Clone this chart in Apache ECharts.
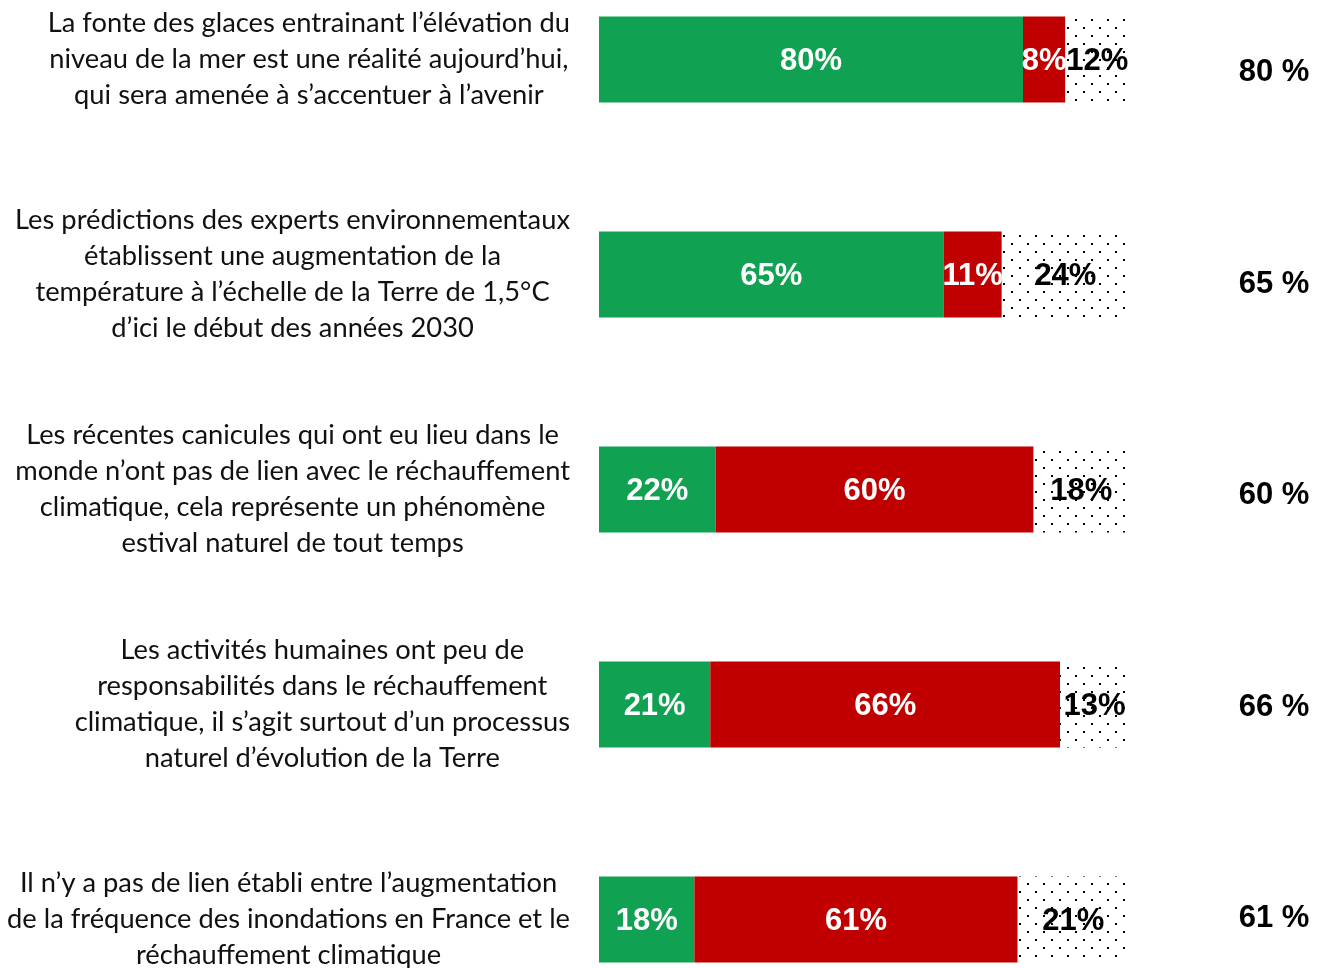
<!DOCTYPE html>
<html>
<head>
<meta charset="utf-8">
<script src="https://cdn.jsdelivr.net/npm/echarts@6/dist/echarts.min.js"></script>
<style>
  html, body { margin: 0; padding: 0; background: #fff; }
  #chart { width: 1326px; height: 968px; }
</style>
</head>
<body>
<div id="chart"></div>
<script>
// libellés des affirmations (retours à la ligne comme dans l'original)
var categories = [
  "La fonte des glaces entrainant l’élévation du\nniveau de la mer est une réalité aujourd’hui,\nqui sera amenée à s’accentuer à l’avenir",
  "Les prédictions des experts environnementaux\nétablissent une augmentation de la\ntempérature à l’échelle de la Terre de 1,5°C\nd’ici le début des années 2030",
  "Les récentes canicules qui ont eu lieu dans le\nmonde n’ont pas de lien avec le réchauffement\nclimatique, cela représente un phénomène\nestival naturel de tout temps",
  "Les activités humaines ont peu de\nresponsabilités dans le réchauffement\nclimatique, il s’agit surtout d’un processus\nnaturel d’évolution de la Terre",
  "Il n’y a pas de lien établi entre l’augmentation\nde la fréquence des inondations en France et le\nréchauffement climatique"
];
var vrai = [80, 65, 22, 21, 18];
var faux = [8, 11, 60, 66, 61];
var nsp = [12, 24, 18, 13, 21];
var totals = ["80 %", "65 %", "60 %", "66 %", "61 %"];

// motif pointillé pour "ne sait pas"
function dotPattern() {
  var c = document.createElement('canvas');
  c.width = 16; c.height = 16;
  var ctx = c.getContext('2d');
  ctx.fillStyle = '#fff';
  ctx.fillRect(0, 0, 16, 16);
  ctx.fillStyle = '#000';
  ctx.fillRect(3, 3, 2, 2);
  ctx.fillRect(11, 11, 2, 2);
  return c;
}

var chart = echarts.init(document.getElementById('chart'));

var barLabel = {
  show: true,
  position: 'inside',
  offset: [0, 2],
  color: '#fff',
  fontFamily: 'Liberation Sans, Arial, sans-serif',
  fontWeight: 'bold',
  fontSize: 31,
  formatter: '{c}%'
};

var option = {
  animation: false,
  backgroundColor: '#fff',
  grid: [
    { left: 599, width: 530, top: -48, height: 1075, outerBoundsMode: 'none' },
    { left: 1274, width: 1, top: -33, height: 1057.5, outerBoundsMode: 'none' }
  ],
  xAxis: [
    { type: 'value', min: 0, max: 100, gridIndex: 0, show: false },
    { type: 'value', min: 0, max: 1, gridIndex: 1, show: false }
  ],
  yAxis: [
    {
      type: 'category',
      gridIndex: 0,
      inverse: true,
      data: categories,
      axisLine: { show: false },
      axisTick: { show: false },
      axisLabel: {
        margin: 29,
        align: 'right',
        formatter: function (v) {
          return v.split('\n').map(function (l) { return '{c|' + l + '}'; }).join('\n');
        },
        rich: {
          c: {
            align: 'center',
            fontFamily: 'Lato, sans-serif',
            fontSize: 27.3,
            lineHeight: 36,
            color: '#111'
          }
        }
      }
    },
    {
      type: 'category',
      gridIndex: 1,
      inverse: true,
      data: totals,
      axisLine: { show: false },
      axisTick: { show: false },
      axisLabel: {
        margin: 0,
        align: 'center',
        fontFamily: 'Liberation Sans, Arial, sans-serif',
        fontWeight: 'bold',
        fontSize: 31,
        color: '#000'
      }
    }
  ],
  series: [
    {
      name: 'Vrai',
      type: 'bar',
      stack: 'total',
      barWidth: 86,
      data: vrai,
      itemStyle: { color: '#11A152' },
      label: barLabel
    },
    {
      name: 'Faux',
      type: 'bar',
      stack: 'total',
      barWidth: 86,
      data: faux,
      itemStyle: { color: '#C00000' },
      label: barLabel
    },
    {
      name: 'NSP',
      type: 'bar',
      stack: 'total',
      barWidth: 86,
      data: nsp,
      itemStyle: { color: { image: dotPattern(), repeat: 'repeat' } },
      label: Object.assign({}, barLabel, { color: '#000' })
    }
  ]
};

chart.setOption(option);
</script>
</body>
</html>
